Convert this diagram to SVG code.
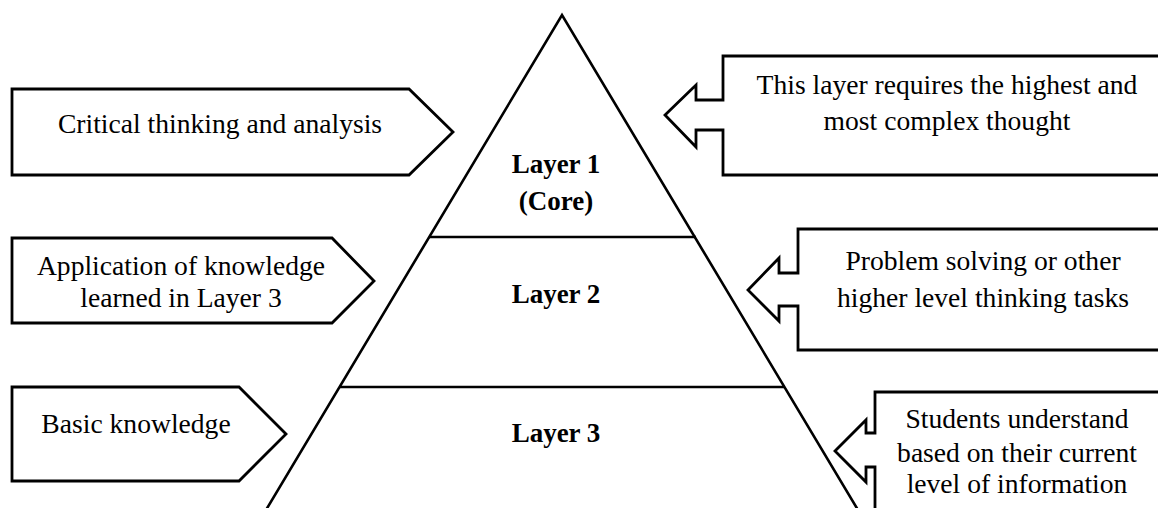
<svg xmlns="http://www.w3.org/2000/svg" width="1158" height="508" viewBox="0 0 1158 508">
<style>
.shape{fill:#fff;stroke:#000;stroke-width:2.8;stroke-linejoin:miter}
.ln{fill:none;stroke:#000;stroke-width:2.6}
text{font-family:"Liberation Serif","Times New Roman",serif;font-size:27.6px;fill:#000;text-anchor:middle}
.b{font-weight:bold;font-size:27px}
</style>
<rect width="1158" height="508" fill="#fff"/>
<g id="pyramid">
<path class="ln" d="M266,510 L562,15 L858,510"/>
<line class="ln" x1="429" y1="237" x2="696" y2="237"/>
<line class="ln" x1="339" y1="387" x2="785" y2="387"/>
<text class="b" x="556" y="173">Layer 1</text>
<text class="b" x="556" y="210">(Core)</text>
<text class="b" x="556" y="303">Layer 2</text>
<text class="b" x="556" y="442">Layer 3</text>
</g>
<g id="left1">
<path class="shape" d="M12,89 H409 L453,132 L409,175 H12 Z"/>
<text x="220" y="133">Critical thinking and analysis</text>
</g>
<g id="left2">
<path class="shape" d="M12,238 H332 L374,281 L332,323 H12 Z"/>
<text x="181" y="275">Application of knowledge</text>
<text x="181" y="307">learned in Layer 3</text>
</g>
<g id="left3">
<path class="shape" d="M12,387 H239 L286,434 L239,481 H12 Z"/>
<text x="136" y="433">Basic knowledge</text>
</g>
<g id="right1">
<path class="shape" d="M723,56 H1162 V175 H723 V130 H696 V147 L665,115 L696,85 V100 H723 Z"/>
<text x="947" y="94">This layer requires the highest and</text>
<text x="947" y="130">most complex thought</text>
</g>
<g id="right2">
<path class="shape" d="M798,229 H1162 V350 H798 V306 H779 V321 L748,290 L779,258 V273 H798 Z"/>
<text x="983" y="270">Problem solving or other</text>
<text x="983" y="307">higher level thinking tasks</text>
</g>
<g id="right3">
<path class="shape" d="M875,392 H1162 V512 H875 V467 H866 V482 L835,451 L866,420 V433 H875 Z"/>
<text x="1017" y="428">Students understand</text>
<text x="1017" y="462">based on their current</text>
<text x="1017" y="493">level of information</text>
</g>
<g id="connectors"></g>
</svg>
